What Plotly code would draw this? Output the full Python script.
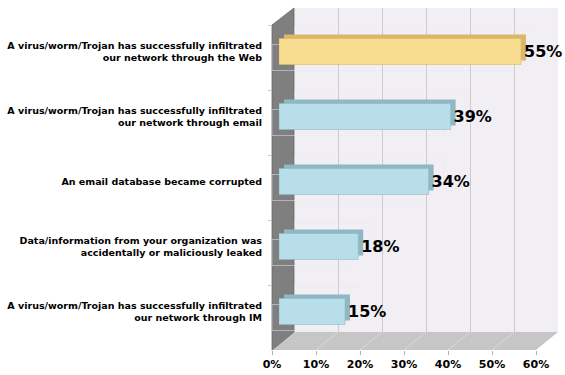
import plotly.graph_objects as go

categories = [
    "A virus/worm/Trojan has successfully infiltrated<br>our network through the Web",
    "A virus/worm/Trojan has successfully infiltrated<br>our network through email",
    "An email database became corrupted",
    "Data/information from your organization was<br>accidentally or maliciously leaked",
    "A virus/worm/Trojan has successfully infiltrated<br>our network through IM",
]
values = [55, 39, 34, 18, 15]
front_colors = ["#F8DC8F", "#B8DFE9", "#B8DFE9", "#B8DFE9", "#B8DFE9"]
side_colors = ["#D9B86A", "#8FB8C4", "#8FB8C4", "#8FB8C4", "#8FB8C4"]
tick_vals = [0, 10, 20, 30, 40, 50, 60]
tick_text = ["0%", "10%", "20%", "30%", "40%", "50%", "60%"]

W, H = 565, 375
FONT = "DejaVu Sans"


def px(x):
    return x / W


def py(y):
    return 1 - y / H


fig = go.Figure()

# invisible trace to instantiate back wall axes
fig.add_trace(go.Bar(x=values, y=categories, orientation="h", xaxis="x2", yaxis="y2",
                     marker_color="rgba(0,0,0,0)", hoverinfo="skip", showlegend=False))
# front axis reference (invisible)
fig.add_trace(go.Bar(x=values, y=categories, orientation="h", xaxis="x", yaxis="y",
                     marker_color="rgba(0,0,0,0)", hoverinfo="skip", showlegend=False))
# 3D depth of bars (top / right faces)
fig.add_trace(go.Bar(x=values, y=categories, orientation="h", xaxis="x3", yaxis="y3",
                     marker=dict(color=side_colors, line=dict(width=0)),
                     hoverinfo="skip", showlegend=False))
# front faces of bars
fig.add_trace(go.Bar(x=values, y=categories, orientation="h", xaxis="x4", yaxis="y4",
                     marker=dict(color=front_colors, line=dict(width=0.6, color=side_colors)),
                     texttemplate="%{x}%", textposition="outside", constraintext="none",
                     textfont=dict(family=FONT, size=16, color="black", weight="bold"),
                     cliponaxis=False, showlegend=False))

common_cat = dict(type="category", categoryorder="array", categoryarray=categories,
                  autorange="reversed", showgrid=False, zeroline=False, automargin=False)

fig.update_layout(
    width=W, height=H,
    margin=dict(l=0, r=0, t=0, b=0, autoexpand=False),
    paper_bgcolor="white", plot_bgcolor="rgba(0,0,0,0)",
    barmode="overlay", bargap=0.6,
    font=dict(family=FONT, color="black"),
    xaxis=dict(domain=[px(272), px(536)], range=[0, 60], anchor="free", position=py(350),
               tickvals=tick_vals, ticktext=tick_text, ticks="outside", ticklen=4,
               tickcolor="#B0B0B0", showgrid=False, zeroline=False, showline=False,
               automargin=False,
               tickfont=dict(family=FONT, size=11, color="black", weight="bold")),
    yaxis=dict(domain=[py(350), py(25)], anchor="free", position=px(272),
               tickson="boundaries", ticks="outside", ticklen=4, tickcolor="#C8C8C8",
               showticklabels=False, showline=False, **common_cat),
    xaxis2=dict(domain=[px(294), px(558)], range=[0, 60], anchor="y2",
                tickvals=tick_vals, showticklabels=False, showgrid=True, automargin=False,
                gridcolor="#CCCCCC", gridwidth=1, zeroline=False, ticks=""),
    yaxis2=dict(domain=[py(332), py(8)], anchor="x2", showticklabels=False, ticks="",
                **common_cat),
    xaxis3=dict(domain=[px(284), px(548)], range=[0, 60], anchor="y3", visible=False,
                automargin=False),
    yaxis3=dict(domain=[py(340), py(15)], anchor="x3", visible=False, **common_cat),
    xaxis4=dict(domain=[px(279), px(543)], range=[0, 60], anchor="y4", visible=False,
                automargin=False),
    yaxis4=dict(domain=[py(344), py(19)], anchor="free", position=px(262),
                showticklabels=True, ticks="", showline=False,
                tickfont=dict(family=FONT, size=9.5, color="black", weight="bold"),
                **common_cat),
)

shapes = []
# back wall
shapes.append(dict(type="rect", xref="x2 domain", yref="y2 domain", x0=0, x1=1, y0=0, y1=1,
                   fillcolor="#F1EEF4", line=dict(width=0), layer="below"))
# floor
shapes.append(dict(type="path", xref="paper", yref="paper",
                   path=f"M {px(272)},{py(350)} L {px(536)},{py(350)} L {px(558)},{py(332)} L {px(294)},{py(332)} Z",
                   fillcolor="#C6C6C6", line=dict(width=0), layer="below"))
# left wall
shapes.append(dict(type="path", xref="paper", yref="paper",
                   path=f"M {px(272)},{py(25)} L {px(294)},{py(8)} L {px(294)},{py(332)} L {px(272)},{py(350)} Z",
                   fillcolor="#7F7F7F", line=dict(width=0.8, color="#6A6A6A"), layer="below"))
# floor grid lines (diagonal, following back-wall gridlines)
for t in tick_vals[1:-1]:
    shapes.append(dict(type="line", xref="x", yref="paper", x0=t, x1=t + 5,
                       y0=py(350), y1=py(332), line=dict(color="#DADADA", width=1),
                       layer="below"))
fig.update_layout(shapes=shapes)

fig.write_html("out.html", config={"displayModeBar": False},
               post_script="document.body.style.margin='0px';document.body.style.overflow='hidden';")
